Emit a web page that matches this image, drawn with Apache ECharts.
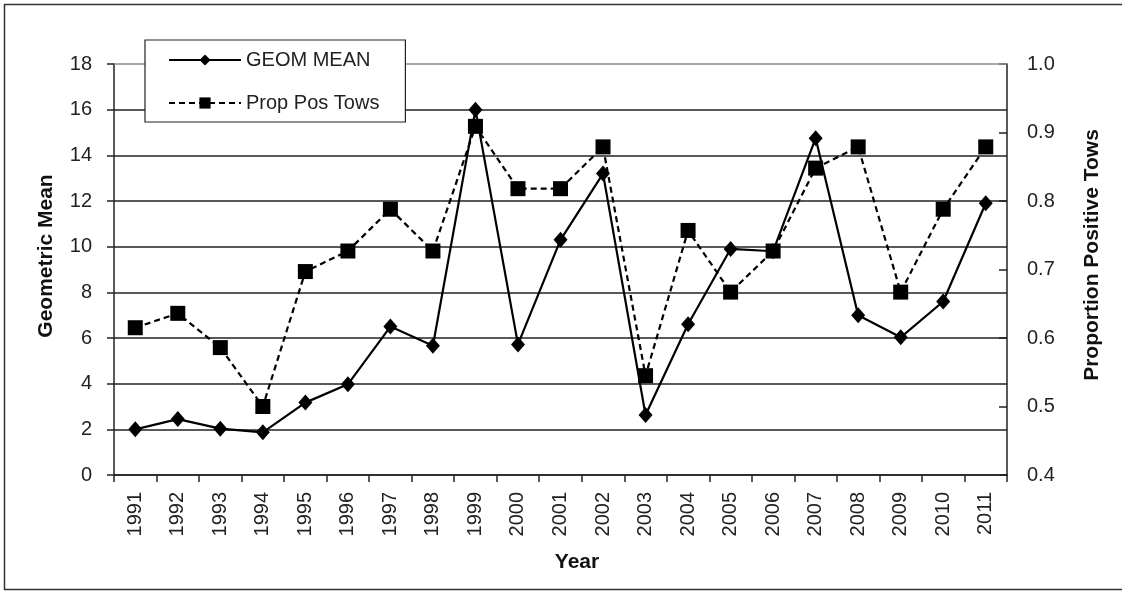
<!DOCTYPE html>
<html>
<head>
<meta charset="utf-8">
<script src="https://cdn.jsdelivr.net/npm/echarts@6/dist/echarts.min.js"></script>
<style>
html,body{margin:0;padding:0;background:#fff;overflow:hidden;}
#chart{width:1122px;height:592px;}
</style>
</head>
<body>
<div id="chart"></div>
<script>
var years = ['1991','1992','1993','1994','1995','1996','1997','1998','1999','2000','2001','2002','2003','2004','2005','2006','2007','2008','2009','2010','2011'];
var geomMean = [2.0, 2.45, 2.03, 1.87, 3.17, 3.97, 6.5, 5.66, 16.0, 5.72, 10.3, 13.2, 2.63, 6.6, 9.9, 9.8, 14.75, 7.0, 6.03, 7.6, 11.9];
var propPosTows = [0.615, 0.636, 0.586, 0.50, 0.697, 0.727, 0.788, 0.727, 0.909, 0.818, 0.818, 0.879, 0.545, 0.757, 0.667, 0.727, 0.848, 0.879, 0.667, 0.788, 0.879];
var seriesNames = ['GEOM MEAN', 'Prop Pos Tows'];
var axisTitles = {x: 'Year', left: 'Geometric Mean', right: 'Proportion Positive Tows'};
var leftMax = 18;

var FONT = '"Liberation Sans", Arial, sans-serif';
var chart = echarts.init(document.getElementById('chart'), null, {renderer: 'canvas'});
var option = {
  animation: false,
  backgroundColor: '#fff',
  grid: {left: 114, right: 115, top: 64, bottom: 117, containLabel: false},
  legend: {
    orient: 'vertical',
    left: 145, top: 40,
    padding: [10, 26, 9, 23],
    itemGap: 23,
    itemWidth: 72, itemHeight: 14,
    backgroundColor: '#fff',
    borderColor: '#222', borderWidth: 1.2,
    data: seriesNames,
    z: 10,
    textStyle: {fontFamily: FONT, fontSize: 20, color: '#222'}
  },
  xAxis: {
    type: 'category',
    data: years,
    boundaryGap: true,
    axisLine: {lineStyle: {color: '#222', width: 1.5}},
    axisTick: {show: true, interval: 0, length: 7, lineStyle: {color: '#222', width: 1.5}},
    axisLabel: {rotate: 90, interval: 0, margin: 17, fontFamily: FONT, fontSize: 20, color: '#222'}
  },
  yAxis: [{
    type: 'value', min: 0, max: leftMax, interval: 2,
    axisLine: {show: true, lineStyle: {color: '#222', width: 1.5}},
    axisTick: {show: true, length: 7, lineStyle: {color: '#222', width: 1.5}},
    axisLabel: {margin: 22, fontFamily: FONT, fontSize: 20, color: '#222'},
    splitLine: {show: true, showMaxLine: false, lineStyle: {color: '#222', width: 1.5}}
  }, {
    type: 'value', min: 0.4, max: 1.0, interval: 0.1,
    position: 'right',
    axisLine: {show: true, lineStyle: {color: '#222', width: 1.5}},
    axisTick: {show: true, inside: true, length: 8, lineStyle: {color: '#222', width: 1.5}},
    axisLabel: {margin: 20, fontFamily: FONT, fontSize: 20, color: '#222', formatter: function (v) { return v.toFixed(1); }},
    splitLine: {show: false}
  }],
  series: [{
    name: seriesNames[0],
    type: 'line',
    yAxisIndex: 0,
    data: geomMean,
    symbol: 'diamond',
    symbolSize: [14, 16],
    itemStyle: {color: '#000'},
    lineStyle: {color: '#000', width: 2.2, type: 'solid'},
    markLine: {
      silent: true, symbol: 'none', animation: false,
      label: {show: false},
      lineStyle: {color: '#8a8a8a', width: 1.5, type: 'solid'},
      data: [{yAxis: leftMax}]
    }
  }, {
    name: seriesNames[1],
    type: 'line',
    yAxisIndex: 1,
    data: propPosTows,
    symbol: 'rect',
    symbolSize: 15,
    itemStyle: {color: '#000'},
    lineStyle: {color: '#000', width: 2.2, type: [6, 4]}
  }],
  graphic: [
    {type: 'polyline', silent: true, z: -10, shape: {points: [[1400, 4.5], [4.5, 4.5], [4.5, 589.5], [1400, 589.5]]},
     style: {fill: null, stroke: '#333', lineWidth: 1.5}},
    {type: 'text', x: 577, y: 562, style: {text: axisTitles.x, font: 'bold 21px ' + FONT, fill: '#111', textAlign: 'center', textVerticalAlign: 'middle'}},
    {type: 'text', x: 46, y: 256, rotation: Math.PI / 2, style: {text: axisTitles.left, font: 'bold 21px ' + FONT, fill: '#111', textAlign: 'center', textVerticalAlign: 'middle'}},
    {type: 'text', x: 1092, y: 255, rotation: Math.PI / 2, style: {text: axisTitles.right, font: 'bold 21px ' + FONT, fill: '#111', textAlign: 'center', textVerticalAlign: 'middle'}}
  ]
};
chart.setOption(option);
</script>
</body>
</html>
